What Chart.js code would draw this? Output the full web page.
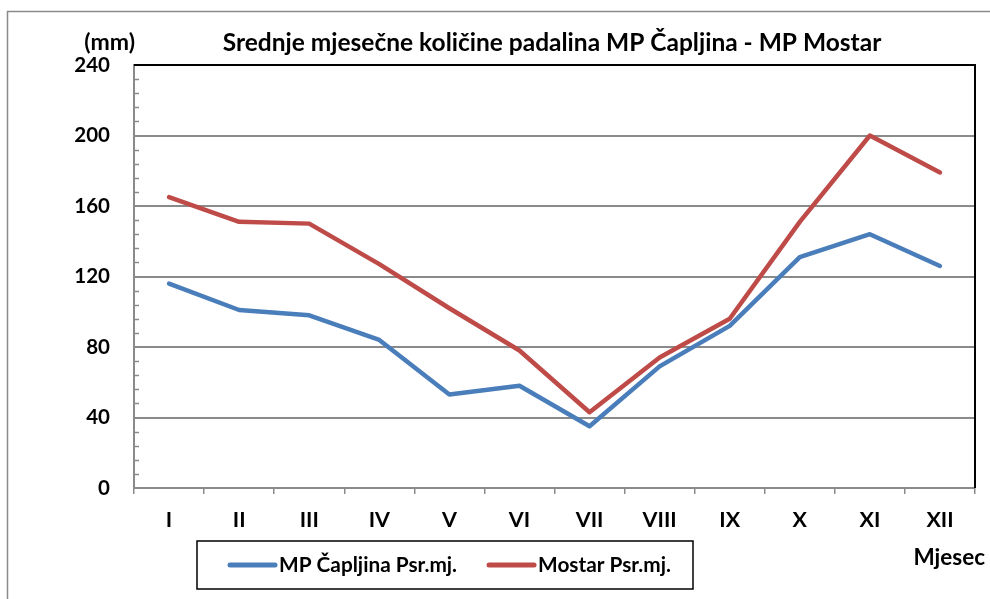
<!DOCTYPE html>
<html>
<head>
<meta charset="utf-8">
<script src="https://cdn.jsdelivr.net/npm/chart.js@4/dist/chart.umd.min.js"></script>
<style>
  html, body { margin: 0; padding: 0; background: #fff; }
  canvas { display: block; }
</style>
</head>
<body>
<canvas id="graph" width="990" height="599"></canvas>
<script>
// podaci
const months = ["I", "II", "III", "IV", "V", "VI", "VII", "VIII", "IX", "X", "XI", "XII"];
const capljina = [116, 101, 98, 84, 53, 58, 35, 69, 92, 131, 144, 126];
const mostar = [165, 151, 150, 127, 102, 78, 43, 74, 96, 151, 200, 179];
const yTicks = [0, 40, 80, 120, 160, 200, 240];

const titleText = "Srednje mjesečne količine padalina MP Čapljina - MP Mostar";
const unitText = "(mm)";
const xTitle = "Mjesec";

const FONT = "Lato, 'DejaVu Sans', sans-serif";

// okvir, naslov, legenda, sitne crtice
const decor = {
  id: "decor",
  beforeDraw(chart) {
    const ctx = chart.ctx;
    ctx.save();
    ctx.fillStyle = "#fff";
    ctx.fillRect(0, 0, chart.width, chart.height);
    ctx.strokeStyle = "#8a8a8a";
    ctx.lineWidth = 1.5;
    ctx.strokeRect(7.5, 11.5, 1200, 1200);
    ctx.restore();
  },
  afterDraw(chart) {
    const ctx = chart.ctx;
    const a = chart.chartArea;
    const y = chart.scales.y;
    ctx.save();
    // minor ticks unutra
    ctx.strokeStyle = "#8a8a8a";
    ctx.lineWidth = 1.5;
    for (let v = 0; v <= 240; v += 8) {
      if (v % 40 === 0) continue;
      const py = Math.round(y.getPixelForValue(v)) + 0.5;
      ctx.beginPath();
      ctx.moveTo(a.left, py);
      ctx.lineTo(a.left + 5, py);
      ctx.stroke();
    }
    // gornji i desni rub crni
    ctx.strokeStyle = "#000";
    ctx.lineWidth = 2;
    ctx.beginPath();
    ctx.moveTo(a.left, a.top);
    ctx.lineTo(a.right, a.top);
    ctx.lineTo(a.right, a.bottom);
    ctx.stroke();

    ctx.fillStyle = "#000";
    ctx.textBaseline = "middle";
    ctx.font = "bold 24.5px " + FONT;
    ctx.textAlign = "center";
    ctx.fillText(titleText, 552, 43);

    ctx.textAlign = "right";
    ctx.font = "bold 23px " + FONT;
    ctx.fillText(unitText, 135, 43);
    ctx.font = "bold 22.5px " + FONT;
    ctx.fillText(xTitle, 985, 558);

    // legenda
    const lx = 197, ly = 541, lw = 496, lh = 48;
    ctx.strokeStyle = "#000";
    ctx.lineWidth = 1.5;
    ctx.strokeRect(lx, ly, lw, lh);
    let x = 230;
    const cy = ly + lh / 2;
    ctx.textAlign = "left";
    ctx.font = "bold 20.8px " + FONT;
    chart.data.datasets.forEach(ds => {
      ctx.strokeStyle = ds.borderColor;
      ctx.lineWidth = 5;
      ctx.lineCap = "round";
      ctx.beginPath();
      ctx.moveTo(x, cy);
      ctx.lineTo(x + 45, cy);
      ctx.stroke();
      ctx.fillStyle = "#000";
      ctx.fillText(ds.label, x + 49, cy);
      x += 49 + ctx.measureText(ds.label).width + 32;
    });
    ctx.restore();
  }
};

new Chart(document.getElementById("graph").getContext("2d"), {
  type: "line",
  data: {
    labels: months,
    datasets: [
      {
        label: "MP Čapljina Psr.mj.",
        data: capljina,
        borderColor: "#4a7ebb",
        borderWidth: 4.5,
        pointRadius: 0,
        tension: 0,
        borderCapStyle: "round",
        borderJoinStyle: "round",
        order: 1,
      },
      {
        label: "Mostar Psr.mj.",
        data: mostar,
        borderColor: "#be4b48",
        borderWidth: 4.5,
        pointRadius: 0,
        tension: 0,
        borderCapStyle: "round",
        borderJoinStyle: "round",
        order: 2,
      },
    ],
  },
  options: {
    responsive: false,
    maintainAspectRatio: false,
    animation: false,
    layout: {
      padding: { top: 65, right: 15, left: 0, bottom: 61 },
    },
    plugins: {
      legend: { display: false },
      title: { display: false },
      tooltip: { enabled: false },
    },
    scales: {
      x: {
        type: "category",
        offset: true,
        afterFit(s) { s.height = 50; },
        grid: {
          offset: true,
          drawOnChartArea: false,
          drawTicks: true,
          tickLength: 6,
          color: "#8a8a8a",
          lineWidth: 1.5,
        },
        border: { color: "#8a8a8a", width: 2 },
        ticks: {
          color: "#000",
          padding: 13,
          maxRotation: 0,
          font: { family: FONT, size: 21.5, weight: "bold" },
        },
      },
      y: {
        min: 0,
        max: 240,
        afterFit(s) { s.width = 134; },
        afterBuildTicks(s) { s.ticks = yTicks.map(v => ({ value: v })); },
        grid: {
          drawTicks: false,
          color: (c) => (c.tick && c.tick.value === 240 ? "rgba(0,0,0,0)" : "#8a8a8a"),
          lineWidth: 2,
        },
        border: { color: "#8a8a8a", width: 2 },
        ticks: {
          color: "#000",
          padding: 24,
          font: { family: FONT, size: 20.5, weight: "bold" },
        },
      },
    },
  },
  plugins: [decor],
});
</script>
</body>
</html>
